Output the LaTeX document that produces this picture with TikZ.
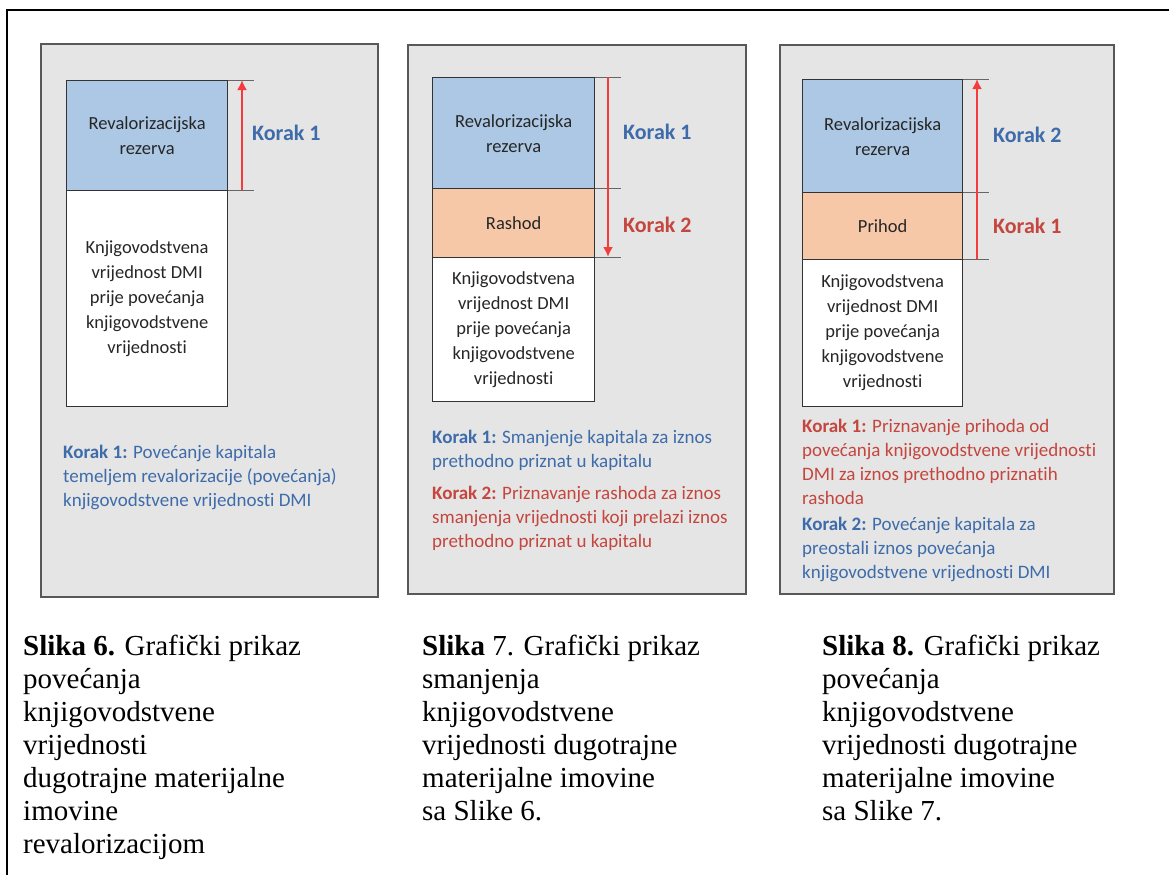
\documentclass[tikz,border=0pt]{standalone}
\usepackage{fontspec}
\setmainfont{Liberation Serif}
\newfontfamily\calibri[RawFeature={-liga;-clig;-calt;-rlig;-dlig}]{Carlito}
\usetikzlibrary{arrows.meta}
\definecolor{cus-gray}{RGB}{229, 229, 229}
\definecolor{cus-frame}{RGB}{88, 88, 88}
\definecolor{cus-blue}{RGB}{172, 200, 228}
\definecolor{cus-orange}{RGB}{246, 200, 168}
\definecolor{cus-txtblue}{RGB}{62, 108, 170}
\definecolor{cus-txtred}{RGB}{196, 70, 62}
\definecolor{cus-arrow}{RGB}{245, 60, 60}
\tikzset{
	panel/.style={draw=cus-frame, line width=1.6pt, fill=cus-gray, anchor=north west, inner sep=0},
	blok/.style={draw=black!80, line width=1.3pt, anchor=north west, align=center, text=black!85,
		font=\calibri\fontsize{18.5}{25}\selectfont},
	tick/.style={draw=black!60, line width=1pt},
	strelica/.style={draw=cus-arrow, line width=2.4pt, -{Latex[length=10pt,width=10pt]}},
	korak/.style={anchor=west, inner sep=0, font=\calibri\bfseries\fontsize{22}{26}\selectfont},
	opis/.style={anchor=north west, inner sep=0, align=left, font=\calibri\fontsize{19}{24}\selectfont},
	slika/.style={anchor=north west, inner sep=0, align=left, font=\fontsize{29}{33}\selectfont}
}
\newcommand{\blok}[7]{
	\node [blok, fill=#6, minimum width=#4pt, minimum height=#5pt] (#1) at (#2,#3) {#7};
}
\newcommand{\kv}{Knjigovodstvena\\vrijednost DMI\\prije povećanja\\knjigovodstvene\\vrijednosti}
\begin{document}
\begin{tikzpicture}[x=1pt, y=-1pt]
	\useasboundingbox (0,0) rectangle (1169,875);
	\draw [line width=2.2pt] (1169,10) -- (7,10) -- (7,875);
	
	% Slika 6
	\node [panel, minimum width=337pt, minimum height=553pt] (p1) at (40,43) {};
	\blok{rez1}{66}{80}{161}{110}{cus-blue}{Revalorizacijska\\rezerva}
	\blok{kv1}{66}{190}{161}{216}{white}{\kv}
	\foreach \b in {rez1.north east, kv1.north east}{
		\draw [tick] (\b) -- ++(26,0);
	}
	\coordinate (s1a) at (242,190);
	\coordinate (s1b) at (242,80);
	\draw [strelica] (s1a) -- (s1b);
	\node [korak, text=cus-txtblue] (k1) at (252,133) {Korak 1};
	\node [opis, text=cus-txtblue] (o1) at (63,445) {\textbf{Korak 1:} Povećanje kapitala\\temeljem revalorizacije (povećanja)\\knjigovodstvene vrijednosti DMI};
	
	% Slika 7
	\node [panel, minimum width=338pt, minimum height=549pt] (p2) at (407,44) {};
	\blok{rez2}{432}{77}{162}{111}{cus-blue}{Revalorizacijska\\rezerva}
	\blok{ras2}{432}{188}{162}{69}{cus-orange}{Rashod}
	\blok{kv2}{432}{257}{162}{144}{white}{\kv}
	\foreach \b in {rez2.north east, ras2.north east, kv2.north east}{
		\draw [tick] (\b) -- ++(26,0);
	}
	\coordinate (s2a) at (608,77);
	\coordinate (s2b) at (608,257);
	\draw [strelica] (s2a) -- (s2b);
	\node [korak, text=cus-txtblue] (k21) at (623,132) {Korak 1};
	\node [korak, text=cus-txtred] (k22) at (623,225) {Korak 2};
	\node [opis, text=cus-txtblue] (o21) at (432,430) {\textbf{Korak 1:} Smanjenje kapitala za iznos\\prethodno priznat u kapitalu};
	\node [opis, text=cus-txtred] (o22) at (432,486) {\textbf{Korak 2:} Priznavanje rashoda za iznos\\smanjenja vrijednosti koji prelazi iznos\\prethodno priznat u kapitalu};
	
	% Slika 8
	\node [panel, minimum width=334pt, minimum height=549pt] (p3) at (779,44) {};
	\blok{rez3}{802}{79}{160}{113}{cus-blue}{Revalorizacijska\\rezerva}
	\blok{pri3}{802}{192}{160}{67}{cus-orange}{Prihod}
	\blok{kv3}{802}{259}{160}{147}{white}{\kv}
	\foreach \b in {rez3.north east, pri3.north east, kv3.north east}{
		\draw [tick] (\b) -- ++(26,0);
	}
	\coordinate (s3a) at (977,259);
	\coordinate (s3b) at (977,79);
	\draw [strelica] (s3a) -- (s3b);
	\node [korak, text=cus-txtblue] (k32) at (993,135) {Korak 2};
	\node [korak, text=cus-txtred] (k31) at (993,226) {Korak 1};
	\node [opis, text=cus-txtred] (o31) at (802,419) {\textbf{Korak 1:} Priznavanje prihoda od\\povećanja knjigovodstvene vrijednosti\\DMI za iznos prethodno priznatih\\rashoda};
	\node [opis, text=cus-txtblue] (o32) at (802,517) {\textbf{Korak 2:} Povećanje kapitala za\\preostali iznos povećanja\\knjigovodstvene vrijednosti DMI};
	
	% potpisi
	\node [slika] (c6) at (23,635) {\textbf{Slika 6.} Grafički prikaz\\povećanja\\knjigovodstvene\\vrijednosti\\dugotrajne materijalne\\imovine\\revalorizacijom};
	\node [slika] (c7) at (422,635) {\textbf{Slika} 7. Grafički prikaz\\smanjenja\\knjigovodstvene\\vrijednosti dugotrajne\\materijalne imovine\\sa Slike 6.};
	\node [slika] (c8) at (822,635) {\textbf{Slika 8.} Grafički prikaz\\povećanja\\knjigovodstvene\\vrijednosti dugotrajne\\materijalne imovine\\sa Slike 7.};
\end{tikzpicture}
\end{document}
